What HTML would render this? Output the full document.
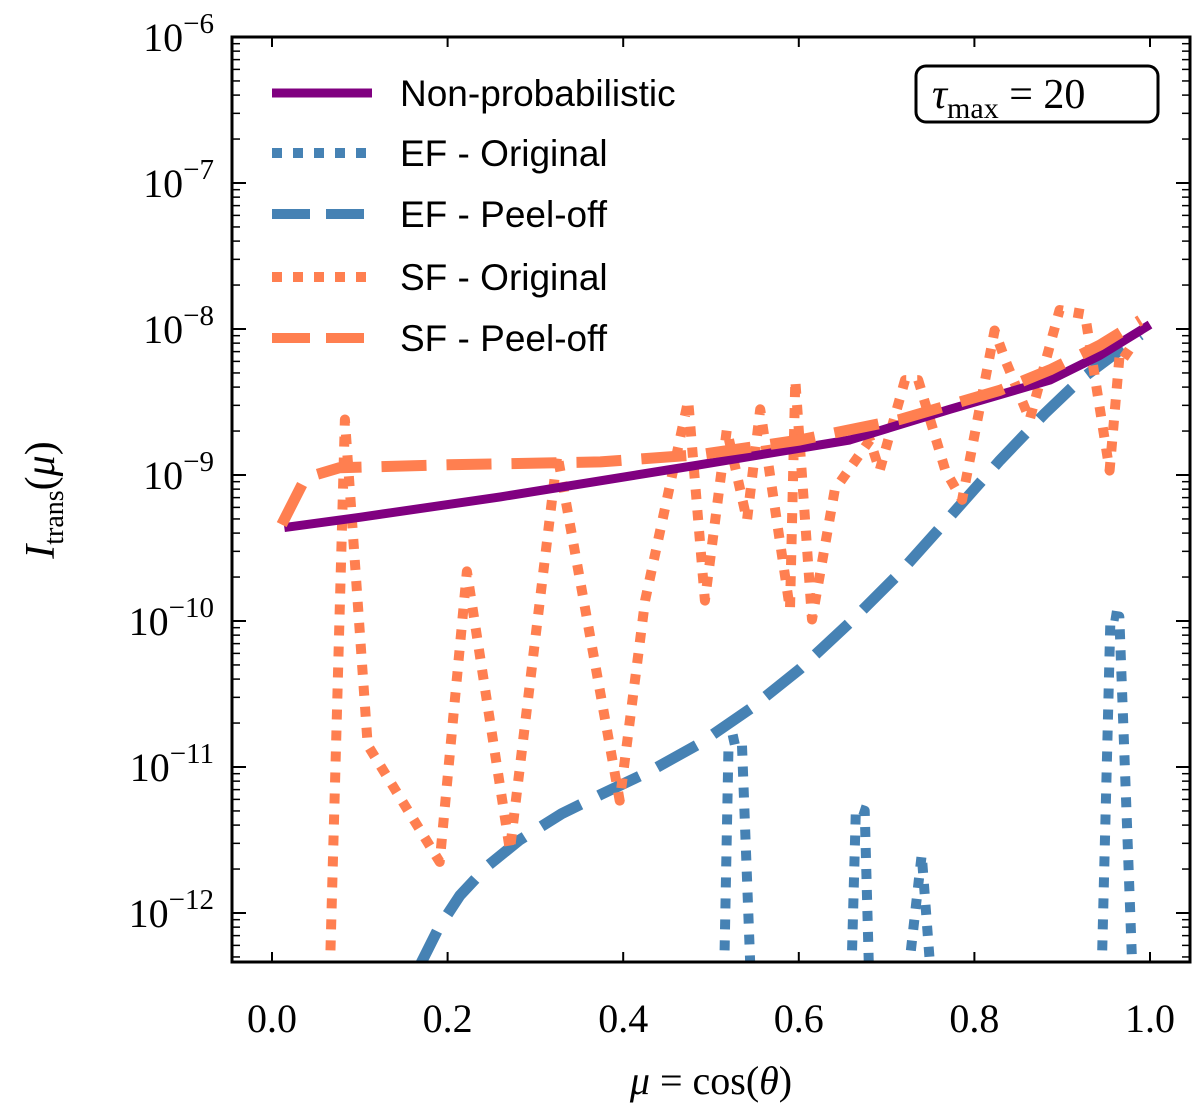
<!DOCTYPE html>
<html><head><meta charset="utf-8"><style>
html,body{margin:0;padding:0;background:#fff;}
svg{display:block;}
text{font-family:"Liberation Serif","DejaVu Serif",serif;}
</style></head><body>
<svg id="chart" width="1200" height="1118" viewBox="0 0 1200 1118" xmlns="http://www.w3.org/2000/svg">
<defs><clipPath id="plotclip"><rect x="232" y="37" width="958" height="925"/></clipPath></defs>
<g id="marks" clip-path="url(#plotclip)"></g>
<rect x="232" y="37" width="958" height="925" fill="none" stroke="#000" stroke-width="3"/>
<g id="axes"></g>
<g>
 <line x1="272" y1="93" x2="372" y2="93" stroke="#800080" stroke-width="9"/>
 <text x="400" y="106" font-size="37" style="font-family:'Liberation Sans',sans-serif">Non-probabilistic</text>
 <line x1="272" y1="153" x2="372" y2="153" stroke="#4682b4" stroke-width="10" stroke-dasharray="10,11"/>
 <text x="400" y="166" font-size="37" style="font-family:'Liberation Sans',sans-serif">EF - Original</text>
 <line x1="272" y1="214" x2="372" y2="214" stroke="#4682b4" stroke-width="10" stroke-dasharray="38,16"/>
 <text x="400" y="227" font-size="37" style="font-family:'Liberation Sans',sans-serif">EF - Peel-off</text>
 <line x1="272" y1="277" x2="372" y2="277" stroke="#ff7f50" stroke-width="10" stroke-dasharray="10,11"/>
 <text x="400" y="290" font-size="37" style="font-family:'Liberation Sans',sans-serif">SF - Original</text>
 <line x1="272" y1="338" x2="372" y2="338" stroke="#ff7f50" stroke-width="10" stroke-dasharray="38,16"/>
 <text x="400" y="351" font-size="37" style="font-family:'Liberation Sans',sans-serif">SF - Peel-off</text>
</g>
<g>
 <rect x="916" y="66" width="242" height="56" rx="10" fill="#fff" stroke="#000" stroke-width="3"/>
 <text x="932" y="108" font-size="42"><tspan font-style="italic">τ</tspan><tspan font-size="30" dy="10">max</tspan><tspan dy="-10"> = 20</tspan></text>
</g>
<text x="711" y="1094" font-size="40" text-anchor="middle"><tspan font-style="italic">μ</tspan> = cos(<tspan font-style="italic">θ</tspan>)</text>
<text transform="translate(54,500) rotate(-90)" font-size="42" text-anchor="middle"><tspan font-style="italic">I</tspan><tspan font-size="28" dy="9">trans</tspan><tspan dy="-9">(</tspan><tspan font-style="italic">μ</tspan>)</text>
</svg>
<script>
const xTicks=[0.0,0.2,0.4,0.6,0.8,1.0];
const xTickLabels=["0.0","0.2","0.4","0.6","0.8","1.0"];
const yTickExps=[-6,-7,-8,-9,-10,-11,-12];
const npMu=[0.014,0.1,0.26,0.487,0.658,0.772,0.886,0.943,1.0];
const npLog=[-9.36,-9.29,-9.15,-8.93,-8.76,-8.55,-8.35,-8.18,-7.97];
const sfPeelMu=[0.011,0.038,0.077,0.2,0.374,0.487,0.601,0.715,0.829,0.886,0.943,0.989];
const sfPeelLog=[-9.34,-9.02,-8.95,-8.93,-8.91,-8.86,-8.76,-8.62,-8.42,-8.28,-8.11,-7.94];
const efPeelMu=[0.165,0.19,0.214,0.245,0.282,0.33,0.374,0.43,0.487,0.545,0.601,0.66,0.715,0.77,0.829,0.88,0.92,0.96,0.989];
const efPeelLog=[-12.4,-12.1,-11.88,-11.68,-11.5,-11.32,-11.19,-11.03,-10.84,-10.6,-10.33,-10.0,-9.67,-9.3,-8.9,-8.58,-8.35,-8.17,-8.04];
const sfOrigMu=[0.066,0.083,0.109,0.191,0.222,0.271,0.325,0.396,0.425,0.474,0.493,0.518,0.541,0.556,0.590,0.596,0.615,0.641,0.681,0.692,0.721,0.736,0.767,0.786,0.823,0.835,0.863,0.897,0.926,0.954,0.966,0.983];
const sfOrigLog=[-12.4,-8.62,-10.85,-11.65,-9.66,-11.57,-8.86,-11.23,-9.86,-8.49,-9.86,-8.69,-9.31,-8.55,-9.92,-8.35,-9.99,-9.10,-8.76,-8.97,-8.35,-8.35,-8.97,-9.17,-8.01,-8.21,-8.62,-7.87,-7.9,-8.97,-8.14,-8.21];
const efOrigMu=[[0.515,0.52,0.535,0.545],[0.66,0.665,0.675,0.68],[0.725,0.74,0.75],[0.945,0.955,0.965,0.98]];
const efOrigLog=[[-12.4,-10.82,-10.8,-12.4],[-12.4,-11.28,-11.3,-12.4],[-12.4,-11.6,-12.4],[-12.4,-9.96,-9.97,-12.4]];

const NS="http://www.w3.org/2000/svg";
const xS=m=>272+m*878;
const yS=l=>37+(-6-l)*146;
const marks=document.getElementById('marks');
const axes=document.getElementById('axes');
function mk(tag,attrs,parent){const e=document.createElementNS(NS,tag);for(const k in attrs)e.setAttribute(k,attrs[k]);parent.appendChild(e);return e;}
function line(mu,lg,color,w,dash,name){
  const d=mu.map((m,i)=>(i?'L':'M')+xS(m).toFixed(1)+','+yS(lg[i]).toFixed(1)).join(' ');
  const p=mk('path',{d:d,fill:'none',stroke:color,'stroke-width':w,'stroke-linejoin':'round'},marks);
  if(dash)p.setAttribute('stroke-dasharray',dash);
  
  
}
for(let i=0;i<efOrigMu.length;i++){line(efOrigMu[i],efOrigLog[i],'#4682b4',10,'10,11','ef-original-line');}
line(efPeelMu,efPeelLog,'#4682b4',11,'45,20','ef-peel-off-line');
line(sfOrigMu,sfOrigLog,'#ff7f50',10,'10,11','sf-original-line');
line(npMu,npLog,'#800080',9,null,'non-probabilistic-line');
line(sfPeelMu,sfPeelLog,'#ff7f50',11,'45,20','sf-peel-off-line');

xTicks.forEach((t,i)=>{
  const x=xS(t);
  mk('line',{x1:x,y1:962,x2:x,y2:952,stroke:'#000','stroke-width':2},axes);
  mk('line',{x1:x,y1:37,x2:x,y2:47,stroke:'#000','stroke-width':2},axes);
  const tx=mk('text',{x:x,y:1032,'font-size':40,'text-anchor':'middle'},axes);
  tx.textContent=xTickLabels[i];
  
  
});
yTickExps.forEach(e=>{
  const y=yS(e);
  mk('line',{x1:232,y1:y,x2:246,y2:y,stroke:'#000','stroke-width':2},axes);
  mk('line',{x1:1190,y1:y,x2:1176,y2:y,stroke:'#000','stroke-width':2},axes);
  for(let k=2;k<10;k++){
    const yy=yS(e-1+Math.log10(k));
    if(yy>962)continue;
    mk('line',{x1:232,y1:yy,x2:240,y2:yy,stroke:'#000','stroke-width':1.5},axes);
    mk('line',{x1:1190,y1:yy,x2:1182,y2:yy,stroke:'#000','stroke-width':1.5},axes);
  }
  const tx=mk('text',{x:214,y:y+14,'font-size':40,'text-anchor':'end'},axes);
  const a=document.createElementNS(NS,'tspan');a.textContent='10';tx.appendChild(a);
  const b=document.createElementNS(NS,'tspan');b.setAttribute('dy','-18');b.setAttribute('font-size','29');b.textContent='−'+(-e);tx.appendChild(b);
  
  
});
</script>
</body></html>
